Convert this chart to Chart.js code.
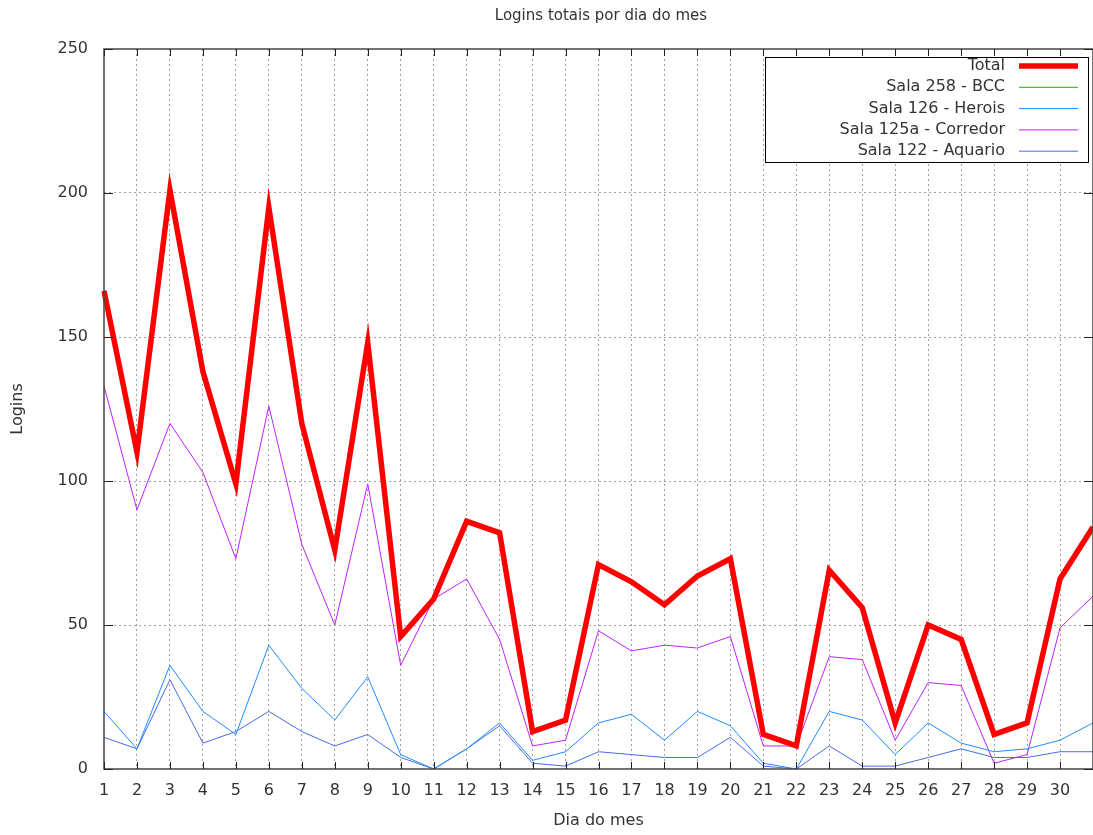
<!DOCTYPE html>
<html>
<head>
<meta charset="utf-8">
<script src="https://cdn.jsdelivr.net/npm/chart.js@4.4.1/dist/chart.umd.min.js"></script>
<style>
html,body{margin:0;padding:0;background:#fff;}
#wrap{width:1093px;height:835px;}
</style>
</head>
<body>
<div id="wrap"><canvas id="grafico" width="1093" height="835"></canvas></div>
<script>
const dias=["1","2","3","4","5","6","7","8","9","10","11","12","13","14","15","16","17","18","19","20","21","22","23","24","25","26","27","28","29","30","31"]

const total=[166,110,201,138,99,195,120,76,148,46,59,86,82,13,17,71,65,57,67,73,12,8,69,56,16,50,45,12,16,66,84]
const sala258=[]
const sala126=[20,7,36,20,12,43,28,17,32,5,0,7,16,3,6,16,19,10,20,15,2,0,20,17,5,16,9,6,7,10,16]
const sala125a=[133,90,120,103,73,126,78,50,99,36,59,66,45,8,10,48,41,43,42,46,8,8,39,38,10,30,29,2,5,49,60]
const sala122=[11,7,31,9,13,20,13,8,12,4,0,7,15,2,1,6,5,4,4,11,1,0,8,1,1,4,7,4,4,6,6]

const yTicks=[0,50,100,150,200,250]

const fonte="'DejaVu Sans', sans-serif"
const corTexto="#333333"

function serie(label,data,cor,largura){
return {
label:label,
data:data,
borderColor:cor,
backgroundColor:cor,
borderWidth:largura,
pointRadius:0,
tension:0,
fill:false,
borderJoinStyle:"miter"
}
}

// moldura, marcas internas, titulo e legenda no estilo gnuplot
const gnuplotEstilo={
id:"gnuplotEstilo",
afterDraw(chart){
const ctx=chart.ctx
const a=chart.chartArea
const xs=chart.scales.x
const ys=chart.scales.y

ctx.save()
ctx.strokeStyle="#444"
ctx.lineWidth=1.5
ctx.strokeRect(a.left,a.top,a.right-a.left,a.bottom-a.top)

ctx.lineWidth=1
ctx.strokeStyle="#222"
for(let i=0;i<dias.length;i++){
const px=Math.round(xs.getPixelForValue(i))+0.5
ctx.beginPath()
ctx.moveTo(px,a.bottom)
ctx.lineTo(px,a.bottom-7)
ctx.moveTo(px,a.top)
ctx.lineTo(px,a.top+7)
ctx.stroke()
}
yTicks.forEach(v=>{
const py=Math.round(ys.getPixelForValue(v))+0.5
ctx.beginPath()
ctx.moveTo(a.left,py)
ctx.lineTo(a.left+9,py)
ctx.moveTo(a.right,py)
ctx.lineTo(a.right-9,py)
ctx.stroke()
})

ctx.fillStyle=corTexto
ctx.font="15px "+fonte
ctx.textAlign="center"
ctx.textBaseline="middle"
ctx.fillText("Logins totais por dia do mes",601,16)

// legenda
ctx.fillStyle="#fff"
ctx.fillRect(765,57,323,105)
ctx.strokeStyle="#000"
ctx.lineWidth=1
ctx.strokeRect(765.5,57.5,323,105)
ctx.font="16px "+fonte
ctx.textAlign="right"
chart.data.datasets.forEach((d,i)=>{
const y=66+i*21.3
ctx.fillStyle=corTexto
ctx.fillText(d.label,1005,y)
ctx.strokeStyle=d.borderColor
ctx.lineWidth=d.borderWidth
ctx.beginPath()
ctx.moveTo(1019,y)
ctx.lineTo(1078,y)
ctx.stroke()
})
ctx.restore()
}
}

new Chart(document.getElementById("grafico"),{
type:"line",
data:{
labels:dias,
datasets:[
serie("Total",total,"#ff0000",5.5),
serie("Sala 258 - BCC",sala258,"#00c000",1),
serie("Sala 126 - Herois",sala126,"#1e8cff",1),
serie("Sala 125a - Corredor",sala125a,"#c020ff",1),
serie("Sala 122 - Aquario",sala122,"#4a6ae8",1)
]
},
options:{
responsive:false,
animation:false,
layout:{padding:{top:49,right:0,left:0,bottom:0}},
plugins:{
legend:{display:false},
title:{display:false},
tooltip:{enabled:false}
},
scales:{
x:{
offset:false,
afterFit(s){s.height=66;s.paddingRight=0;s.paddingLeft=0},
grid:{
drawTicks:false,
color:ctx=>(ctx.index===0||ctx.index===dias.length-1)?"rgba(0,0,0,0)":"#a0a0a0",
lineWidth:1
},
border:{display:false,dash:[2,3]},
ticks:{
autoSkip:false,
maxRotation:0,
padding:12,
color:corTexto,
font:{family:fonte,size:16},
callback:function(v,i){return i<30?dias[i]:""}
},
title:{
display:true,
text:"Dia do mes",
color:corTexto,
font:{family:fonte,size:16},
padding:{top:0,bottom:5}
}
},
y:{
min:0,
max:250,
afterFit(s){s.width=104;s.paddingTop=0;s.paddingBottom=0},
afterBuildTicks(s){s.ticks=yTicks.map(v=>({value:v}))},
grid:{
drawTicks:false,
color:ctx=>(ctx.tick&&(ctx.tick.value===0||ctx.tick.value===250))?"rgba(0,0,0,0)":"#a0a0a0",
lineWidth:1
},
border:{display:false,dash:[2,3]},
ticks:{
padding:16,
color:corTexto,
font:{family:fonte,size:16}
},
title:{
display:true,
text:"Logins",
color:corTexto,
font:{family:fonte,size:16},
padding:{top:8,bottom:0}
}
}
}
},
plugins:[gnuplotEstilo]
})
</script>
</body>
</html>
